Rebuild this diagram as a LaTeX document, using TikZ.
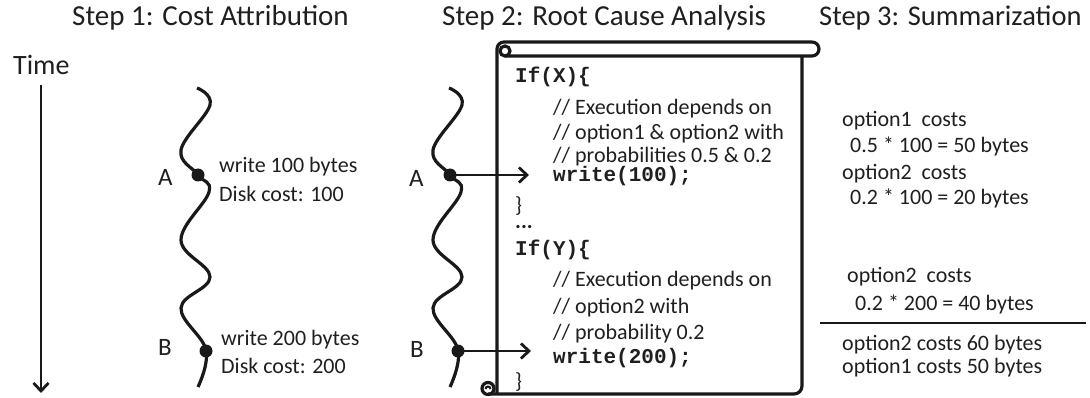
\documentclass[tikz,border=0pt]{standalone}
\usepackage{fontspec}
\setmainfont{Carlito}
\newfontfamily\codefont{Liberation Mono}
\usetikzlibrary{arrows.meta}
\tikzset{
  txt/.style={anchor=base west, inner sep=0pt, font=\fontsize{22}{26}\selectfont, text=black!88},
  ttl/.style={anchor=base west, inner sep=0pt, font=\fontsize{29}{33}\selectfont, text=black!88},
  lbl/.style={anchor=base west, inner sep=0pt, font=\fontsize{25}{28}\selectfont, text=black!88},
  code/.style={anchor=base west, inner sep=0pt, font=\codefont\bfseries\fontsize{21}{24}\selectfont, text=black!88},
  wave/.style={line width=3.2pt, black!90},
  dot/.style={circle, fill=black!90, inner sep=0pt, minimum size=13pt},
  arr/.style={line width=2.8pt, black!90, -{Straight Barb[length=8pt,width=15pt,line width=2.8pt]}},
  scroll/.style={line width=3.2pt, black!90},
}
\begin{document}
\begin{tikzpicture}[x=1pt,y=-1pt]
\useasboundingbox (0,0) rectangle (1090,398);

% titles
\node[ttl] (t1) at (72,26) {Step 1: Cost Attribution};
\node[ttl] (t2) at (442,26) {Step 2: Root Cause Analysis};
\node[ttl, font=\fontsize{28.5}{33}\selectfont] (t3) at (819,26) {Step 3: Summarization};

% time axis
\node[ttl, font=\fontsize{28}{30}\selectfont] (time) at (13,75) {Time};
\coordinate (ts) at (41,85);
\coordinate (te) at (41,393);
\draw[arr] (ts) -- (te);

% wave 1
\draw[wave] plot[smooth, tension=0.65] coordinates {(197,88) (210,105) (181,150) (198,175) (209,192) (181,240) (210,277) (181,308) (206,350) (198,387)};
\node[dot] (a1) at (198,175) {};
\node[dot] (b1) at (206,351) {};
\node[lbl] (la1) at (158,186) {A};
\node[lbl] (lb1) at (158,355) {B};
\node[txt] (w1) at (219,173) {write 100 bytes};
\node[txt] (d1) at (219,202) {Disk cost: 100};
\node[txt] (w2) at (221,345) {write 200 bytes};
\node[txt] (d2) at (221,373) {Disk cost: 200};

% wave 2
\draw[wave] plot[smooth, tension=0.65] coordinates {(449,88) (462,105) (433,150) (450,175) (461,192) (433,240) (462,277) (433,308) (458,350) (450,387)};
\node[dot] (a2) at (450,175) {};
\node[dot] (b2) at (458,351) {};
\node[lbl] (la2) at (409,187) {A};
\node[lbl] (lb2) at (410,357) {B};
\coordinate (ea) at (529,175);
\coordinate (eb) at (531,351);
\draw[arr] (a2.center) -- (ea);
\draw[arr] (b2.center) -- (eb);

% scroll
\draw[scroll, rounded corners=7pt] (497,393) -- (497,42) -- (812,42);
\draw[scroll] (812,42) arc[start angle=-90, end angle=90, radius=7] -- (505,56);
\draw[scroll] (505,51) circle[radius=5];
\draw[scroll, rounded corners=8pt] (802,56) -- (802,394) -- (488,394);
\draw[scroll] (488,388.5) circle[radius=6];
\draw[line width=2pt, black!90] (485.5,389) arc[start angle=180, end angle=360, radius=2.5];

% code
\node[code] (c1) at (515,83) {If(X)\{};
\node[txt] (c2) at (553,115) {// Execution depends on};
\node[txt] (c3) at (553,140) {// option1 \& option2 with};
\node[txt] (c4) at (553,163) {// probabilities 0.5 \& 0.2};
\node[code] (c5) at (553,182) {write(100);};
\node[txt] (c6) at (515,213) {\}};
\node[txt, font=\bfseries\fontsize{22}{26}\selectfont] (c7) at (515,229) {...};
\node[code] (c8) at (515,255) {If(Y)\{};
\node[txt] (c9) at (553,287) {// Execution depends on};
\node[txt] (c10) at (553,313) {// option2 with};
\node[txt] (c11) at (553,339) {// probability 0.2};
\node[code] (c12) at (553,363) {write(200);};
\node[txt] (c13) at (515,388) {\}};

% summary
\node[txt] (s1) at (842,127) {option1\ \ costs};
\node[txt] (s2) at (850,153) {0.5 * 100 = 50 bytes};
\node[txt] (s3) at (842,180) {option2\ \ costs};
\node[txt] (s4) at (850,205) {0.2 * 100 = 20 bytes};
\node[txt] (s5) at (847,283) {option2\ \ costs};
\node[txt] (s6) at (855,310) {0.2 * 200 = 40 bytes};
\coordinate (l1) at (820,323);
\coordinate (l2) at (1086,323);
\draw[line width=2.4pt, black!90] (l1) -- (l2);
\node[txt] (s7) at (842,350) {option2 costs 60 bytes};
\node[txt] (s8) at (842,373) {option1 costs 50 bytes};
\end{tikzpicture}
\end{document}
